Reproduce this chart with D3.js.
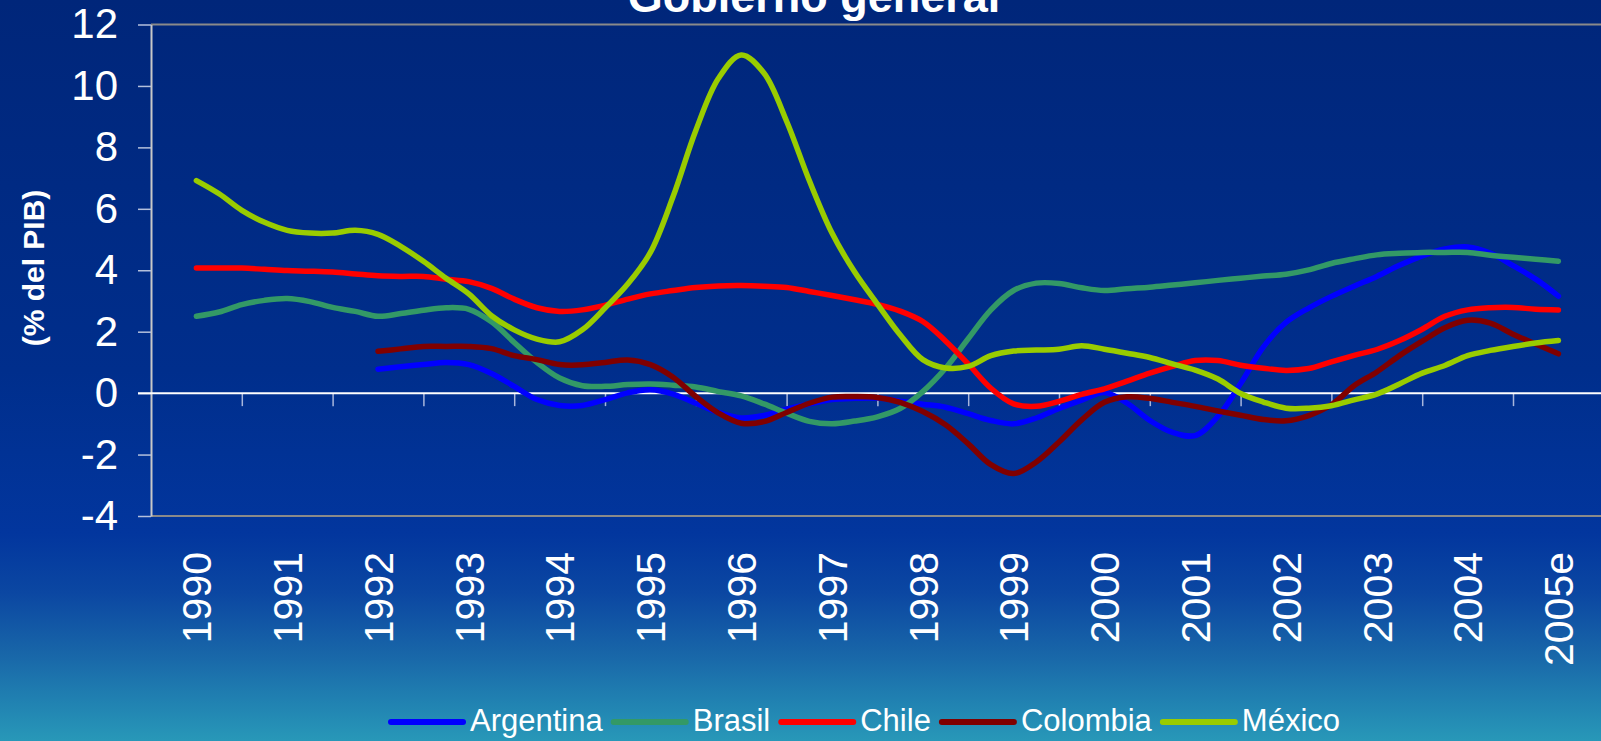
<!DOCTYPE html>
<html><head><meta charset="utf-8">
<script src="https://cdn.jsdelivr.net/npm/d3@7"></script>
<style>html,body{margin:0;padding:0;overflow:hidden;background:#00267a}</style>
</head><body>
<svg id="c" width="1601" height="741"></svg>
<script>
// ---- data ----
const titleText = "Gobierno general";
const yAxisTitle = "(% del PIB)";
const categories = ["1990","1991","1992","1993","1994","1995","1996","1997","1998","1999","2000","2001","2002","2003","2004","2005e"];
const yTicks = [-4,-2,0,2,4,6,8,10,12];
// quarterly observation points (fraction of year)
const periods = [
 1990,1990.25,1990.5,1990.75, 1991,1991.25,1991.5,1991.75, 1992,1992.25,1992.5,1992.75,
 1993,1993.25,1993.5,1993.75, 1994,1994.25,1994.5,1994.75, 1995,1995.25,1995.5,1995.75,
 1996,1996.25,1996.5,1996.75, 1997,1997.25,1997.5,1997.75, 1998,1998.25,1998.5,1998.75,
 1999,1999.25,1999.5,1999.75, 2000,2000.25,2000.5,2000.75, 2001,2001.25,2001.5,2001.75,
 2002,2002.25,2002.5,2002.75, 2003,2003.25,2003.5,2003.75, 2004,2004.25,2004.5,2004.75, 2005];

const argentina = [
 null,null,null,null, null,null,null,null,
 0.78,0.86,0.93,1.00, 0.93,0.64,0.22,-0.21, -0.40,-0.40,-0.21,0.01,
 0.11,-0.03,-0.33,-0.63, -0.81,-0.73,-0.52,-0.35, -0.21,-0.17,-0.16,-0.26,
 -0.36,-0.46,-0.67,-0.89, -1.00,-0.81,-0.50,-0.23, 0.02,-0.33,-0.89,-1.28,
 -1.38,-0.76,0.31,1.50, 2.30,2.77,3.15,3.48, 3.80,4.16,4.47,4.69,
 4.76,4.56,4.15,3.71, 3.16];
const brasil = [
 2.50,2.64,2.88,3.02, 3.08,2.98,2.79,2.66, 2.50,2.59,2.70,2.78, 2.73,2.32,1.65,1.00,
 0.49,0.24,0.22,0.28, 0.30,0.26,0.20,0.05, -0.09,-0.35,-0.65,-0.92, -1.00,-0.91,-0.77,-0.50,
 0.05,0.81,1.77,2.71, 3.34,3.58,3.57,3.43, 3.34,3.40,3.45,3.52, 3.59,3.67,3.74,3.81,
 3.87,4.01,4.22,4.37, 4.50,4.55,4.58,4.58, 4.58,4.49,4.42,4.36, 4.29];
const chile = [
 4.07,4.07,4.07,4.03, 3.99,3.97,3.94,3.88, 3.82,3.80,3.80,3.71, 3.63,3.41,3.06,2.78,
 2.66,2.71,2.86,3.06, 3.23,3.34,3.44,3.49, 3.50,3.48,3.44,3.31, 3.18,3.04,2.89,2.67,
 2.33,1.70,0.95,0.16, -0.35,-0.43,-0.27,-0.04, 0.14,0.39,0.65,0.87, 1.06,1.06,0.91,0.81,
 0.74,0.80,1.02,1.23, 1.42,1.71,2.08,2.50, 2.71,2.78,2.79,2.73, 2.71];
const colombia = [
 null,null,null,null, null,null,null,null,
 1.36,1.44,1.52,1.52, 1.52,1.45,1.22,1.09, 0.93,0.92,1.00,1.08,
 0.93,0.52,-0.11,-0.65, -0.98,-0.93,-0.63,-0.33, -0.13,-0.11,-0.14,-0.30,
 -0.60,-1.03,-1.65,-2.33, -2.62,-2.24,-1.59,-0.87, -0.30,-0.12,-0.17,-0.30,
 -0.43,-0.58,-0.72,-0.86, -0.90,-0.73,-0.38,0.24, 0.69,1.22,1.69,2.13,
 2.37,2.28,1.92,1.60, 1.28];
const mexico = [
 6.92,6.49,5.95,5.56, 5.30,5.21,5.21,5.30, 5.17,4.78,4.29,3.74, 3.23,2.52,2.06,1.76,
 1.67,2.06,2.77,3.55, 4.58,6.40,8.55,10.25, 11.01,10.42,8.85,6.92, 5.21,3.94,2.90,1.90,
 1.09,0.82,0.87,1.22, 1.37,1.40,1.43,1.54, 1.43,1.30,1.16,0.95, 0.75,0.46,-0.01,-0.29,
 -0.49,-0.49,-0.41,-0.22, -0.03,0.30,0.65,0.90, 1.22,1.39,1.52,1.63, 1.71];

const seriesNames = ["Argentina","Brasil","Chile","Colombia","México"];
const seriesValues = [argentina, brasil, chile, colombia, mexico];
const seriesColors = ["#0000ff","#339966","#ff0000","#800000","#99cc00"];

// ---- drawing ----
const W = 1601, H = 741;
const svg = d3.select("#c");
const FONT = "Arial, 'Liberation Sans', sans-serif";

const defs = svg.append("defs");
const grad = defs.append("linearGradient").attr("id","bg").attr("x1",0).attr("y1",0).attr("x2",0).attr("y2",1);
[[0,"#00267a"],[0.5,"#002e8c"],[0.72,"#02369e"],[0.8,"#0b47a2"],[0.88,"#1865a8"],[0.95,"#2183b2"],[1,"#2898b8"]]
  .forEach(([o,c]) => grad.append("stop").attr("offset",o).attr("stop-color",c));
svg.append("rect").attr("width",W).attr("height",H).attr("fill","url(#bg)");

const plotLeft = 151, plotTop = 24.5, plotBottom = 516, step = 90.8;
const xBand = d3.scaleBand().domain(categories).range([plotLeft, plotLeft + step*categories.length]);
const bw = xBand.bandwidth();
const x = d3.scaleLinear().domain([1990, 2005])
  .range([xBand("1990") + bw/2, xBand("2005e") + bw/2]);
const y = d3.scaleLinear().domain([-4, 12]).range([plotBottom, plotTop]);

// plot frame
svg.append("line").attr("x1",plotLeft).attr("x2",W).attr("y1",y(12)).attr("y2",y(12))
  .attr("stroke","#8a8a8a").attr("stroke-width",2);
svg.append("line").attr("x1",plotLeft).attr("x2",W).attr("y1",y(-4)).attr("y2",y(-4))
  .attr("stroke","#8a8a8a").attr("stroke-width",2);

// y axis
const yAxis = svg.append("g").attr("transform",`translate(${plotLeft},0)`)
  .call(d3.axisLeft(y).tickValues(yTicks).tickSize(13).tickSizeOuter(0).tickPadding(20).tickFormat(d => String(d)));
yAxis.select(".domain").attr("stroke","#c8c8c8").attr("stroke-width",2);
yAxis.selectAll(".tick line").attr("stroke","#b4c0dc").attr("stroke-width",1.5);
yAxis.selectAll(".tick text").attr("fill","#ffffff").attr("font-family",FONT).attr("font-size",42);

// zero line with category boundary ticks
const boundaries = categories.slice(0,-1).map(c => xBand(c) + bw);
const xAxis = svg.append("g").attr("transform",`translate(0,${y(0)})`)
  .call(d3.axisBottom(d3.scaleLinear().domain([0,W]).range([0,W])).tickValues(boundaries).tickSize(13).tickSizeOuter(0).tickFormat(""));
xAxis.select(".domain").remove();
xAxis.selectAll(".tick line").attr("stroke","#a8b6dc").attr("stroke-width",1.5);
svg.append("line").attr("x1",plotLeft-13).attr("x2",W).attr("y1",y(0)).attr("y2",y(0))
  .attr("stroke","#ffffff").attr("stroke-width",2);

// category labels (rotated)
svg.append("g").selectAll("text").data(categories).join("text")
  .attr("transform", d => `translate(${xBand(d)+bw/2},552) rotate(-90)`)
  .attr("text-anchor","end").attr("dy","0.36em")
  .attr("fill","#ffffff").attr("font-family",FONT).attr("font-size",41)
  .text(d => d);

// axis title
svg.append("text").attr("transform","translate(33,268) rotate(-90)")
  .attr("text-anchor","middle").attr("dy","0.36em")
  .attr("fill","#ffffff").attr("font-family",FONT).attr("font-weight","bold").attr("font-size",30)
  .text(yAxisTitle);

// title (partly above the top edge, as in the reference)
svg.append("text").attr("x",814).attr("y",12).attr("text-anchor","middle")
  .attr("fill","#ffffff").attr("font-family",FONT).attr("font-weight","bold").attr("font-size",45)
  .text(titleText);

// series
const line = d3.line()
  .defined(d => d.v !== null)
  .x(d => x(d.t)).y(d => y(d.v))
  .curve(d3.curveCatmullRom.alpha(0.5));
seriesNames.forEach((name, i) => {
  const pts = periods.map((t, k) => ({t, v: seriesValues[i][k]}));
  svg.append("path").datum(pts)
    .attr("d", line).attr("fill","none")
    .attr("stroke", seriesColors[i]).attr("stroke-width",5.5)
    .attr("stroke-linecap","round").attr("stroke-linejoin","round");
});

// legend
const lg = svg.append("g");
let lx = 391;
seriesNames.forEach((name, i) => {
  lg.append("line").attr("x1",lx).attr("x2",lx+72).attr("y1",722).attr("y2",722)
    .attr("stroke",seriesColors[i]).attr("stroke-width",6).attr("stroke-linecap","round");
  const t = lg.append("text").attr("x",lx+79).attr("y",731)
    .attr("fill","#ffffff").attr("font-family",FONT).attr("font-size",31).text(name);
  lx += 79 + t.node().getComputedTextLength() + 11;
});
</script>
</body></html>
